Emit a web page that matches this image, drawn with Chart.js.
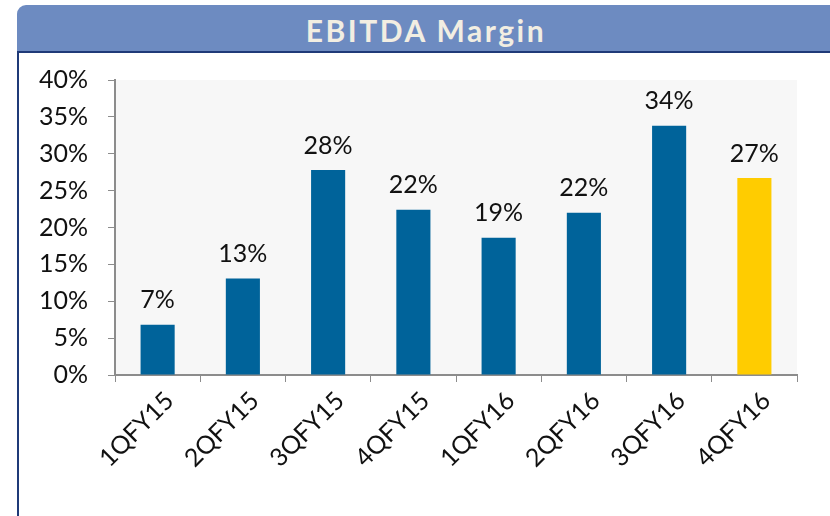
<!DOCTYPE html>
<html>
<head>
<meta charset="utf-8">
<script src="https://cdn.jsdelivr.net/npm/chart.js@4.4.1/dist/chart.umd.min.js"></script>
<style>
  body { margin: 0; background: #fff; }
  #wrap { position: relative; width: 830px; height: 516px; overflow: hidden; }
  #banner {
    position: absolute; left: 17px; top: 5px; width: 830px; height: 46px;
    background: #6d8bc1; border-top-left-radius: 9px;
    border-bottom: 2px solid #1f3a78;
    color: #f2eee2; font: bold 30px Lato, sans-serif; letter-spacing: 2.5px;
    text-align: center; line-height: 50px; text-indent: -12px;
  }
  #frame {
    position: absolute; left: 17px; top: 53px; width: 830px; height: 470px;
    border-left: 2px solid #1f3a78;
  }
  canvas { position: absolute; left: 0; top: 0; }
</style>
</head>
<body>
<div id="wrap">
  <div id="banner">EBITDA Margin</div>
  <div id="frame"></div>
  <canvas id="graph1" width="830" height="516"></canvas>
</div>
<script>
// quarters
var quarters = ['1QFY15','2QFY15','3QFY15','4QFY15','1QFY16','2QFY16','3QFY16','4QFY16'];
// EBITDA margin, %
var margin = [6.8, 13.1, 27.8, 22.4, 18.6, 22.0, 33.8, 26.7];
var marginLabels = ['7%','13%','28%','22%','19%','22%','34%','27%'];
var barcol = ['#00639a','#00639a','#00639a','#00639a','#00639a','#00639a','#00639a','#ffcc00'];

var plotBack = {
  id: 'plotBack',
  beforeDraw: function(chart) {
    var a = chart.chartArea, ctx = chart.ctx;
    ctx.save();
    ctx.fillStyle = '#f7f7f7';
    ctx.fillRect(a.left, a.top, a.right - a.left, a.bottom - a.top);
    ctx.restore();
  }
};

var barLabels = {
  id: 'barLabels',
  afterDatasetsDraw: function(chart) {
    var ctx = chart.ctx;
    var meta = chart.getDatasetMeta(0);
    ctx.save();
    ctx.fillStyle = '#111';
    ctx.font = '25px Lato, sans-serif';
    ctx.textAlign = 'center';
    ctx.textBaseline = 'bottom';
    meta.data.forEach(function(bar, i) {
      ctx.fillText(marginLabels[i], bar.x, bar.y - 12);
    });
    ctx.restore();
  }
};

var marksCanvas1 = document.getElementById('graph1');
var barChart = new Chart(marksCanvas1, {
  type: 'bar',
  data: {
    labels: quarters,
    datasets: [{
      data: margin,
      backgroundColor: barcol,
      barPercentage: 0.4,
      categoryPercentage: 1.0
    }]
  },
  options: {
    responsive: false,
    animation: false,
    layout: { padding: { top: 80, right: 33, left: 0, bottom: 0 } },
    plugins: { legend: { display: false }, tooltip: { enabled: false }, title: { display: false } },
    scales: {
      x: {
        grid: { drawOnChartArea: false, drawTicks: true, tickLength: 7, color: '#8c8c8c', offset: true },
        border: { color: '#8c8c8c', width: 2 },
        ticks: { color: '#111', font: { family: 'Lato', size: 25 }, minRotation: 45, maxRotation: 45,
          padding: 4, labelOffset: 12 },
        afterFit: function(s) { s.height = 141; }
      },
      y: {
        min: 0, max: 40,
        grid: { drawOnChartArea: false, drawTicks: true, tickLength: 7, color: '#8c8c8c' },
        border: { color: '#8c8c8c', width: 2 },
        ticks: { stepSize: 5, color: '#111', font: { family: 'Lato', size: 25 }, padding: 20,
          callback: function(v) { return v + '%'; } },
        afterFit: function(s) { s.width = 115; }
      }
    }
  },
  plugins: [plotBack, barLabels]
});
</script>
</body>
</html>
